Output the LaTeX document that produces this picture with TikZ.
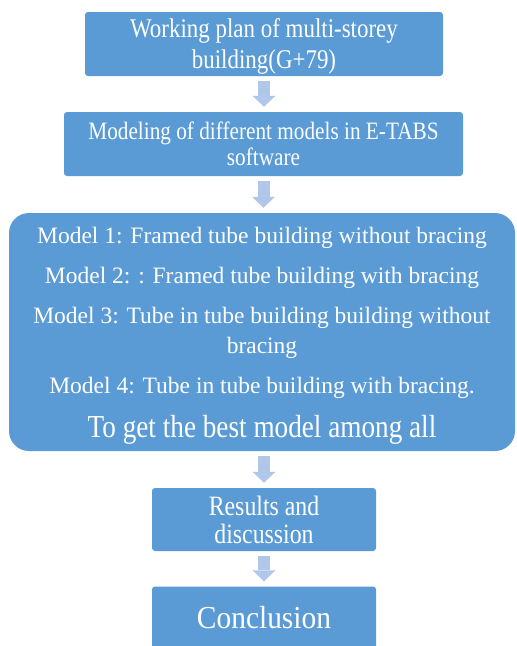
\documentclass[tikz,border=0pt]{standalone}
\usepackage{fontspec}
\setmainfont{Liberation Serif}
\newfontfamily\narrowserif[FakeStretch=0.85]{Liberation Serif}
\newfontfamily\looseserif[FakeStretch=0.92]{Liberation Serif}
\usetikzlibrary{arrows.meta,calc,positioning}

\definecolor{boxblue}{RGB}{91,155,213}
\definecolor{arrowblue}{RGB}{177,199,233}

\begin{document}
\begin{tikzpicture}[
    x=1pt, y=-1pt,
    stage/.style={fill=boxblue, text=white, rounded corners=3pt, align=center, inner sep=0pt},
    flow/.style={arrowblue, line width=12pt, shorten <=5pt, shorten >=5pt,
        -{Triangle[width=23pt, length=11pt, line width=0pt]}},
]
\useasboundingbox (0,0) rectangle (517,646);

% ---- top boxes ----
\node[stage, minimum width=358pt, minimum height=64pt,
    font=\narrowserif\fontsize{27}{31}\selectfont] (plan) at (264,44)
    {\rule{0pt}{23pt}Working plan of multi-storey\\building(G+79)};

\node[stage, minimum width=399pt, minimum height=64pt,
    font=\narrowserif\fontsize{25}{26}\selectfont] (etabs) at (263.5,144)
    {Modeling of different models in E-TABS\\software};

% ---- models ----
\node[stage, rounded corners=20pt, minimum width=506pt, minimum height=238pt,
    font=\fontsize{23.5}{30}\selectfont] (models) at (262,332) {
    \rule{0pt}{24pt}Model 1: Framed tube building without bracing\\[10pt]
    Model 2: : Framed tube building with bracing\\[10pt]
    Model 3: Tube in tube building building without\\
    bracing\\[10pt]
    Model 4: Tube in tube building with bracing.\\[14pt]
    {\narrowserif\fontsize{32}{34}\selectfont To get the best model among all}
};

% ---- bottom boxes ----
\node[stage, minimum width=224pt, minimum height=63pt,
    font=\narrowserif\fontsize{28}{28}\selectfont] (results) at (264,519.5)
    {Results and\\discussion};

\node[stage, minimum width=224pt, minimum height=63pt,
    font=\looseserif\fontsize{32}{34}\selectfont] (concl) at (264,618)
    {Conclusion};

% ---- arrows ----
\draw[flow] (plan.south) -- (plan.south |- etabs.north);
\draw[flow] (etabs.south) -- (etabs.south |- models.north);
\draw[flow] (models.south -| results.north) -- (results.north);
\draw[flow] (results.south) -- (concl.north);
\end{tikzpicture}
\end{document}
